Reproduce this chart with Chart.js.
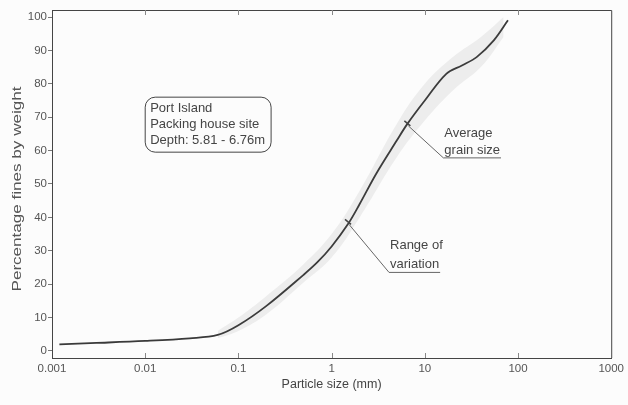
<!DOCTYPE html>
<html>
<head>
<meta charset="utf-8">
<script src="https://cdn.jsdelivr.net/npm/chart.js@4.4.1/dist/chart.umd.min.js"></script>
<style>
  html, body { margin: 0; padding: 0; background: #fcfcfc; }
  #wrap { width: 628px; height: 405px; }
</style>
</head>
<body>
<div id="wrap"><canvas id="gradingChart" width="628" height="405"></canvas></div>
<script>
// grading curve, particle size (mm) vs percentage finer
const sizeMm = [0.0012, 0.003, 0.01, 0.03, 0.06, 0.1, 0.2, 0.5, 0.7, 1, 1.5, 2, 3, 5, 6.5, 10, 17, 25, 36, 55, 78];
const percentFiner = [2, 2.4, 3, 3.8, 4.8, 7.7, 13.5, 22.8, 26.5, 31.3, 38, 44, 53, 63, 68, 75, 83, 85.5, 88, 93, 99];

// range of variation band
const bandSize = [0.06, 0.1, 0.2, 0.5, 1, 2, 5, 10, 20, 40, 70];
const bandLow = [3.8, 6, 11, 20.5, 28, 40, 58, 69, 78, 85, 94];
const bandHigh = [6, 10, 16.5, 26, 35, 48, 68, 80, 88, 94, 100];

const xTicks = [0.001, 0.01, 0.1, 1, 10, 100, 1000];
const yTicks = [0, 10, 20, 30, 40, 50, 60, 70, 80, 90, 100];

const yTitle = 'Percentage fines by weight';
const siteLines = ['Port Island', 'Packing house site', 'Depth: 5.81 - 6.76m'];
const sitePos = { x: 0.01, y: 76 };
const avgNote = { x: 6.5, y: 68, lines: ['Average', 'grain size'] };
const rangeNote = { x: 1.5, y: 38.5, lines: ['Range of', 'variation'] };

const ink = '#454545';
const family = '"Liberation Sans", Arial, sans-serif';
const font = '13px ' + family;

const pts = (xs, ys) => xs.map((x, i) => ({ x: x, y: ys[i] }));

const softBand = {
  id: 'softBand',
  beforeDatasetDraw(chart, args) {
    if (args.index < 2) {
      chart.ctx.save();
      chart.ctx.filter = 'blur(6px)';
    }
  },
  afterDatasetDraw(chart, args) {
    if (args.index < 2) chart.ctx.restore();
  }
};

const notes = {
  id: 'notes',
  afterDraw(chart) {
    const ctx = chart.ctx;
    const xs = chart.scales.x, ys = chart.scales.y;
    const a = chart.chartArea;
    ctx.save();
    ctx.strokeStyle = ink;
    ctx.fillStyle = ink;
    ctx.lineWidth = 1;

    // frame top and right
    ctx.beginPath();
    ctx.moveTo(a.left, a.top + 0.5);
    ctx.lineTo(a.right + 0.5, a.top + 0.5);
    ctx.lineTo(a.right + 0.5, a.bottom);
    ctx.stroke();

    // inward decade ticks on bottom and top
    ctx.strokeStyle = '#888';
    xTicks.slice(1, -1).forEach(v => {
      const px = Math.round(xs.getPixelForValue(v)) + 0.5;
      ctx.beginPath();
      ctx.moveTo(px, a.bottom);
      ctx.lineTo(px, a.bottom - 5);
      ctx.moveTo(px, a.top);
      ctx.lineTo(px, a.top + 5);
      ctx.stroke();
    });

    // y title, drawn by hand so it can be stretched along its length
    ctx.save();
    ctx.font = '13px ' + family;
    ctx.fillStyle = '#555';
    ctx.textAlign = 'center';
    ctx.textBaseline = 'middle';
    const tw = ctx.measureText(yTitle).width;
    ctx.translate(17, (a.top + a.bottom) / 2 + 5);
    ctx.rotate(-Math.PI / 2);
    ctx.scale(205 / tw, 1);
    ctx.fillText(yTitle, 0, 0);
    ctx.restore();

    ctx.font = font;
    ctx.textBaseline = 'alphabetic';
    ctx.strokeStyle = ink;

    // site label box
    const bx = xs.getPixelForValue(sitePos.x);
    const by = ys.getPixelForValue(sitePos.y);
    const w = Math.max(...siteLines.map(t => ctx.measureText(t).width)) + 11;
    const h = siteLines.length * 16 + 7;
    ctx.beginPath();
    ctx.roundRect(bx, by, w, h, 10);
    ctx.stroke();
    siteLines.forEach((t, i) => ctx.fillText(t, bx + 5, by + 15 + i * 16));

    // leader + underlined label
    const callout = (n, dx, dy, gap) => {
      const px = xs.getPixelForValue(n.x);
      const py = ys.getPixelForValue(n.y);
      const ex = px + dx, ey = py + dy;
      ctx.lineWidth = 1.5;
      ctx.beginPath();
      ctx.moveTo(px - 3, py - 3);
      ctx.lineTo(px + 3, py + 2);
      ctx.stroke();
      ctx.lineWidth = 1;
      ctx.strokeStyle = '#666';
      ctx.beginPath();
      ctx.moveTo(px + 1, py + 2);
      ctx.lineTo(ex, ey);
      const lw = ctx.measureText(n.lines[1]).width;
      ctx.lineTo(ex + lw + 2, ey);
      ctx.stroke();
      ctx.strokeStyle = ink;
      ctx.fillText(n.lines[0], ex + 1, ey - 4 - gap);
      ctx.fillText(n.lines[1], ex + 1, ey - 4);
    };
    callout(avgNote, 36, 34, 17);
    callout(rangeNote, 41, 50, 19);
    ctx.restore();
  }
};

new Chart(document.getElementById('gradingChart'), {
  type: 'line',
  data: {
    datasets: [
      {
        data: pts(bandSize, bandLow),
        borderWidth: 0,
        pointRadius: 0,
        tension: 0.4,
        fill: false
      },
      {
        data: pts(bandSize, bandHigh),
        borderWidth: 0,
        pointRadius: 0,
        tension: 0.4,
        backgroundColor: 'rgba(90, 90, 90, 0.09)',
        fill: '-1'
      },
      {
        data: pts(sizeMm, percentFiner),
        borderColor: '#3a3a3a',
        borderWidth: 1.8,
        pointRadius: 0,
        tension: 0.35,
        fill: false
      }
    ]
  },
  options: {
    responsive: false,
    animation: false,
    layout: { padding: { top: 10, right: 14, left: 0, bottom: 0 } },
    plugins: {
      legend: { display: false },
      tooltip: { enabled: false }
    },
    scales: {
      x: {
        type: 'logarithmic',
        min: 0.001,
        max: 1000,
        afterBuildTicks: s => { s.ticks = xTicks.map(v => ({ value: v })); },
        afterFit: s => { s.height = 47; },
        grid: { drawOnChartArea: false, drawTicks: false },
        border: { color: ink, width: 1 },
        ticks: {
          maxRotation: 0,
          padding: 4,
          color: '#555',
          font: { family: family, size: 11.5 },
          callback: v => String(v)
        },
        title: {
          display: true,
          text: 'Particle size (mm)',
          color: '#444',
          padding: { top: 1, bottom: 13 },
          font: { family: family, size: 12.5 }
        }
      },
      y: {
        min: -2.1,
        max: 102.1,
        afterBuildTicks: s => { s.ticks = yTicks.map(v => ({ value: v })); },
        afterFit: s => { s.width = 52; },
        grid: { drawOnChartArea: false, tickLength: 4, color: '#777' },
        border: { color: ink, width: 1 },
        ticks: {
          padding: 1,
          color: '#555',
          font: { family: family, size: 11.5 }
        }
      }
    }
  },
  plugins: [softBand, notes]
});
</script>
</body>
</html>
